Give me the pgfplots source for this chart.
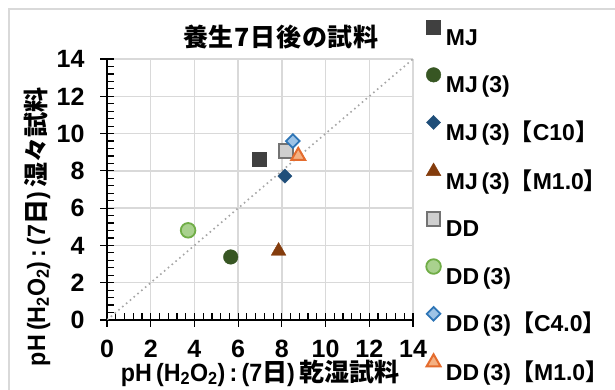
\documentclass[border=0pt]{standalone}
\usepackage{fontspec}
\setmainfont{Liberation Sans}[FakeStretch=0.93]
\newfontfamily\numf{Liberation Sans}
\newfontfamily\jp{Noto Sans CJK JP}
\newfontfamily\jpt{Noto Sans CJK JP}[LetterSpace=3]
\usepackage{pgfplots}
\pgfplotsset{compat=1.18}

\definecolor{gridc}{HTML}{D9D9D9}
\definecolor{framec}{HTML}{D9D9D9}
\definecolor{diagc}{HTML}{A6A6A6}
\definecolor{cMJ}{HTML}{404040}
\definecolor{cMJthree}{HTML}{375623}
\definecolor{cMJC}{HTML}{1F4E79}
\definecolor{cMJM}{HTML}{843C0C}
\definecolor{cDDfill}{HTML}{CFCFCF}
\definecolor{cDDline}{HTML}{737373}
\definecolor{cDDthreefill}{HTML}{A9D18E}
\definecolor{cDDthreeline}{HTML}{70AD47}
\definecolor{cDDCfill}{HTML}{9DC3E6}
\definecolor{cDDCline}{HTML}{2E75B6}
\definecolor{cDDMfill}{HTML}{F4B183}
\definecolor{cDDMline}{HTML}{E46C2E}

% brackets of the legend entries
\newcommand{\lb}{{\jp 【}}
\newcommand{\rb}{{\jp 】}}

\begin{document}
\begin{tikzpicture}
\useasboundingbox (0bp,0bp) rectangle (615bp,390bp);
\draw[framec, line width=1.2bp] (9bp,-20bp) -- (9bp,381bp) -- (640bp,381bp);
% chart title
\node[anchor=center, inner sep=0pt, font=\fontsize{25bp}{25bp}\selectfont\bfseries\jpt]
    at (281bp,353bp) {養生7日後の試料};
\begin{axis}[
    at={(107bp,70bp)}, anchor=south west,
    scale only axis, width=306bp, height=261bp,
    xmin=0, xmax=14, ymin=0, ymax=14,
    xtick={0,2,...,14}, ytick={0,2,...,14},
    minor x tick num=4, minor y tick num=4,
    axis x line=bottom, axis y line=left,
    axis line style={-, black, line width=1.3bp},
    tick style={black, line width=1.2bp},
    tick align=inside,
    major tick length=13bp, minor tick length=6.5bp,
    major x tick style={yshift=-6.5bp},
    major y tick style={xshift=-6.5bp},
    grid=major, major grid style={gridc, line width=1.3bp},
    /pgf/number format/assume math mode=true,
    ticklabel style={font=\numf\bfseries\fontsize{25bp}{25bp}\selectfont},
    xticklabel style={yshift=-17bp},
    yticklabel style={xshift=-19bp},
    xlabel={\fontsize{25bp}{25bp}\selectfont\bfseries pH\,(H\textsubscript{2}O\textsubscript{2})\,:\,(7{\jp 日})\,{\jp 乾湿試料}},
    xlabel style={at={(0.5,-0.2031)}, anchor=center},
    ylabel={\fontsize{25bp}{25bp}\selectfont\bfseries pH\,(H\textsubscript{2}O\textsubscript{2})\,:\,(7{\jp 日})\,{\jp 湿々試料}},
    ylabel style={at={(-0.2288,0.3563)}, anchor=center},
    legend image code/.code={\draw[#1] plot coordinates {(0bp,9bp)};},
    legend cell align=left,
    legend style={at={(1.0425,1.15)}, anchor=north west, draw=none, fill=none,
        inner sep=0pt, row sep=22.5bp, column sep=5bp,
        font=\numf\bfseries\fontsize{23bp}{23bp}\selectfont,
        nodes={inner sep=0pt, text height=18bp, text depth=0pt}},
]
% 1:1 line
\addplot[diagc, line width=1.6bp, dash pattern=on 1.6bp off 3.4bp, forget plot]
    coordinates {(0,0) (14,14)};

\addplot[only marks, mark=square*, mark size=7bp, mark options={draw=cMJ, fill=cMJ}]
    coordinates {(6.95,8.65)};
\addlegendentry{MJ}
\addplot[only marks, mark=*, mark size=7.3bp, mark options={draw=cMJthree, fill=cMJthree}]
    coordinates {(5.66,3.38)};
\addlegendentry{MJ\,(3)}
\addplot[only marks, mark=square*, mark size=5bp, mark options={rotate=45, draw=cMJC, fill=cMJC}]
    coordinates {(8.14,7.72)};
\addlegendentry{MJ\,(3)\lb C10\rb}
\addplot[only marks, mark=triangle*, mark size=8.5bp, mark options={draw=cMJM, fill=cMJM}]
    coordinates {(7.85,3.70)};
\addlegendentry{MJ\,(3)\lb M1.0\rb}
\addplot[only marks, mark=square*, mark size=6.8bp, mark options={draw=cDDline, fill=cDDfill, line width=2bp}]
    coordinates {(8.20,9.07)};
\addlegendentry{DD}
\addplot[only marks, mark=*, mark size=7.3bp, mark options={draw=cDDthreeline, fill=cDDthreefill, line width=1.8bp}]
    coordinates {(3.71,4.81)};
\addlegendentry{DD\,(3)}
\addplot[only marks, mark=square*, mark size=4.8bp, mark options={rotate=45, draw=cDDCline, fill=cDDCfill, line width=1.8bp}]
    coordinates {(8.50,9.60)};
\addlegendentry{DD\,(3)\lb C4.0\rb}
\addplot[only marks, mark=triangle*, mark size=8bp, mark options={draw=cDDMline, fill=cDDMfill, line width=2bp}]
    coordinates {(8.75,8.80)};
\addlegendentry{DD\,(3)\lb M1.0\rb}
\end{axis}
\end{tikzpicture}
\end{document}
